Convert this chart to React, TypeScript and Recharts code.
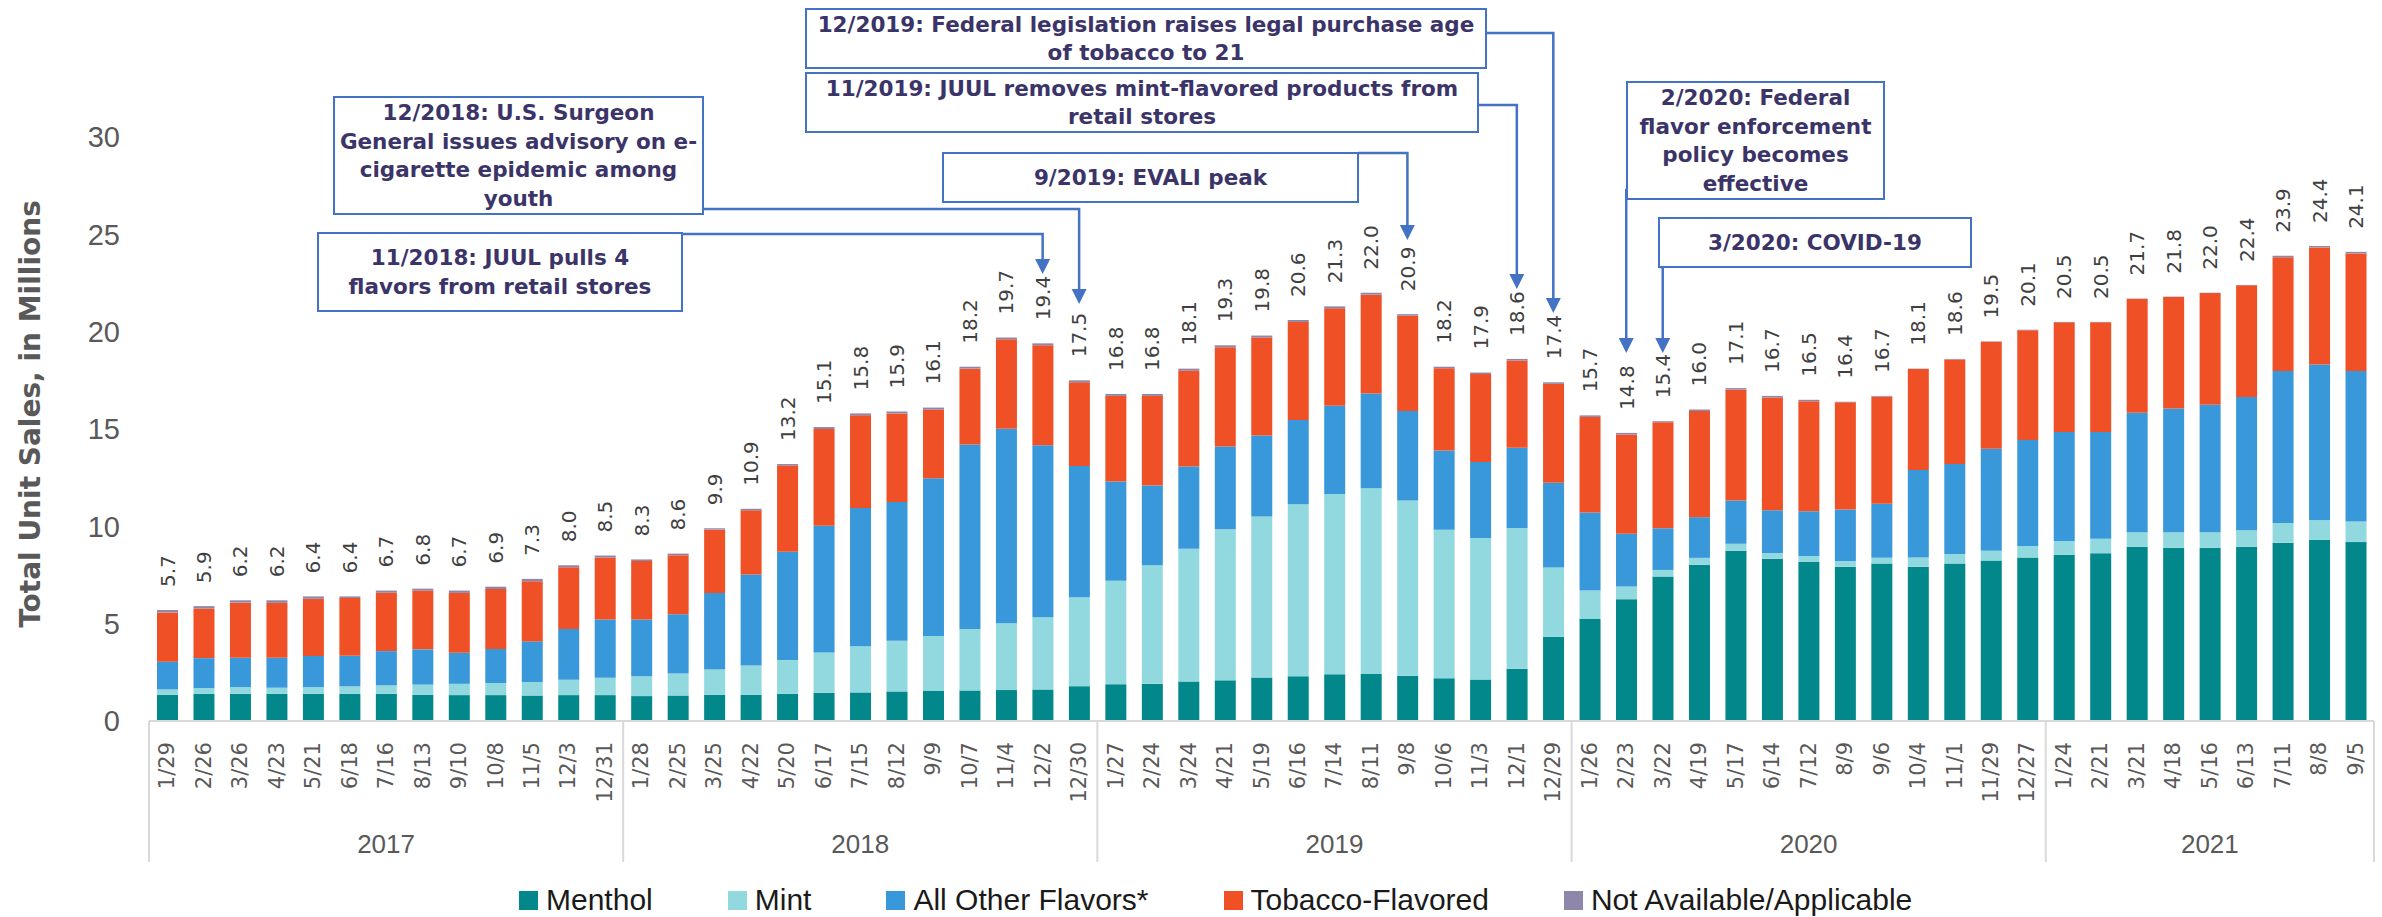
import React from "react";
import { Bar, BarChart, LabelList, XAxis, YAxis } from "recharts";

// weekly periods (4-week ending dates)
const weekLabels = [
  "1/29", "2/26", "3/26", "4/23", "5/21", "6/18", "7/16", "8/13", "9/10", "10/8", "11/5", "12/3", "12/31",
  "1/28", "2/25", "3/25", "4/22", "5/20", "6/17", "7/15", "8/12", "9/9", "10/7", "11/4", "12/2", "12/30",
  "1/27", "2/24", "3/24", "4/21", "5/19", "6/16", "7/14", "8/11", "9/8", "10/6", "11/3", "12/1", "12/29",
  "1/26", "2/23", "3/22", "4/19", "5/17", "6/14", "7/12", "8/9", "9/6", "10/4", "11/1", "11/29", "12/27",
  "1/24", "2/21", "3/21", "4/18", "5/16", "6/13", "7/11", "8/8", "9/5",
];
const years = ["2017", "2018", "2019", "2020", "2021"];
const weeksPerYear = [13, 13, 13, 13, 9];

// unit sales, millions
const menthol = [
  1.35, 1.39, 1.4, 1.39, 1.4, 1.39, 1.39, 1.35, 1.33, 1.33, 1.31, 1.33, 1.33,
  1.28, 1.31, 1.35, 1.35, 1.39, 1.44, 1.47, 1.52, 1.54, 1.57, 1.59, 1.62, 1.79,
  1.89, 1.91, 2.03, 2.09, 2.24, 2.3, 2.4, 2.42, 2.32, 2.2, 2.13, 2.68, 4.33,
  5.24, 6.26, 7.42, 8.03, 8.74, 8.34, 8.17, 7.93, 8.09, 7.93, 8.09, 8.24, 8.4,
  8.54, 8.62, 8.95, 8.89, 8.89, 8.95, 9.15, 9.3, 9.19,
];
const mint = [
  0.27, 0.3, 0.34, 0.32, 0.34, 0.39, 0.44, 0.52, 0.58, 0.62, 0.69, 0.79, 0.89,
  1.02, 1.13, 1.29, 1.5, 1.74, 2.08, 2.37, 2.6, 2.83, 3.15, 3.43, 3.71, 4.57,
  5.31, 6.09, 6.82, 7.76, 8.26, 8.83, 9.26, 9.54, 9.01, 7.63, 7.27, 7.23, 3.56,
  1.46, 0.65, 0.34, 0.35, 0.37, 0.29, 0.31, 0.29, 0.29, 0.47, 0.49, 0.5, 0.59,
  0.71, 0.74, 0.75, 0.81, 0.81, 0.85, 1.02, 1.01, 1.06,
];
const otherFlavors = [
  1.43, 1.54, 1.51, 1.54, 1.6, 1.57, 1.76, 1.81, 1.6, 1.75, 2.09, 2.61, 3.0,
  2.92, 3.05, 3.93, 4.67, 5.57, 6.51, 7.1, 7.13, 8.1, 9.48, 9.99, 8.83, 6.74,
  5.1, 4.1, 4.23, 4.25, 4.16, 4.33, 4.53, 4.86, 4.59, 4.06, 3.9, 4.13, 4.35,
  4.01, 2.71, 2.14, 2.09, 2.22, 2.19, 2.3, 2.64, 2.78, 4.49, 4.62, 5.25, 5.45,
  5.6, 5.49, 6.13, 6.35, 6.55, 6.84, 7.81, 8.0, 7.73,
];
const tobaccoFlavored = [
  2.53, 2.55, 2.83, 2.82, 2.94, 2.97, 3.0, 3.02, 3.07, 3.08, 3.09, 3.17, 3.18,
  3.0, 3.03, 3.26, 3.3, 4.42, 4.97, 4.76, 4.55, 3.53, 3.9, 4.6, 5.14, 4.3,
  4.4, 4.6, 4.92, 5.1, 5.04, 5.04, 5.01, 5.08, 4.9, 4.23, 4.52, 4.48, 5.08,
  4.91, 5.1, 5.45, 5.45, 5.69, 5.8, 5.65, 5.51, 5.5, 5.19, 5.37, 5.49, 5.63,
  5.63, 5.63, 5.85, 5.73, 5.73, 5.74, 5.84, 6.02, 6.04,
];
const notAvailable = [
  0.12, 0.12, 0.12, 0.13, 0.12, 0.08, 0.11, 0.1, 0.12, 0.12, 0.12, 0.1, 0.1,
  0.08, 0.08, 0.07, 0.08, 0.08, 0.1, 0.1, 0.1, 0.1, 0.1, 0.09, 0.1, 0.1,
  0.1, 0.1, 0.1, 0.1, 0.1, 0.1, 0.1, 0.1, 0.08, 0.08, 0.08, 0.08, 0.08,
  0.08, 0.08, 0.05, 0.08, 0.08, 0.08, 0.07, 0.03, 0.04, 0.02, 0.03, 0.02, 0.03,
  0.02, 0.02, 0.02, 0.02, 0.02, 0.02, 0.08, 0.07, 0.08,
];
const totals = [
  5.7, 5.9, 6.2, 6.2, 6.4, 6.4, 6.7, 6.8, 6.7, 6.9, 7.3, 8.0, 8.5,
  8.3, 8.6, 9.9, 10.9, 13.2, 15.1, 15.8, 15.9, 16.1, 18.2, 19.7, 19.4, 17.5,
  16.8, 16.8, 18.1, 19.3, 19.8, 20.6, 21.3, 22.0, 20.9, 18.2, 17.9, 18.6, 17.4,
  15.7, 14.8, 15.4, 16.0, 17.1, 16.7, 16.5, 16.4, 16.7, 18.1, 18.6, 19.5, 20.1,
  20.5, 20.5, 21.7, 21.8, 22.0, 22.4, 23.9, 24.4, 24.1,
];
const yTicks = [0, 5, 10, 15, 20, 25, 30];

const seriesKeys = ["menthol", "mint", "other", "tobacco", "na"];
const seriesNames = ["Menthol", "Mint", "All Other Flavors*", "Tobacco-Flavored", "Not Available/Applicable"];
const COLORS = ["#02878B", "#92D9DF", "#3898DA", "#F05025", "#8E87A9"];

// policy events and the week (index) each one points to
const eventNotes = [
  ["12/2019: Federal legislation raises legal purchase age", "of tobacco to 21"],
  ["11/2019: JUUL removes mint-flavored products from", "retail stores"],
  ["12/2018: U.S. Surgeon", "General issues advisory on e-", "cigarette epidemic among", "youth"],
  ["11/2018: JUUL pulls 4", "flavors from retail stores"],
  ["9/2019: EVALI peak"],
  ["2/2020: Federal", "flavor enforcement", "policy becomes", "effective"],
  ["3/2020: COVID-19"],
];
const eventWeeks = [38, 37, 25, 24, 34, 40, 41];

const data = weekLabels.map((week, i) => ({
  week,
  menthol: menthol[i],
  mint: mint[i],
  other: otherFlavors[i],
  tobacco: tobaccoFlavored[i],
  na: notAvailable[i],
  total: totals[i],
}));

// layout
const WIDTH = 2382;
const HEIGHT = 917;
const PLOT_LEFT = 149;
const PLOT_RIGHT = 2374;
const PLOT_TOP = 137;
const AXIS_Y = 721;
const STEP = (PLOT_RIGHT - PLOT_LEFT) / weekLabels.length;
const barCenter = (i: number) => PLOT_LEFT + (i + 0.5) * STEP;

const groupStarts = weeksPerYear.map((_, g) => weeksPerYear.slice(0, g).reduce((a, b) => a + b, 0));

// box [x, y, w, h], connector start [x, y], arrow tip y
const eventLayout = [
  { box: [806, 9, 680, 59], from: [1486, 33], tipY: 313 },
  { box: [806, 73, 672, 59], from: [1478, 105], tipY: 289 },
  { box: [334, 97, 369, 117], from: [703, 209], tipY: 304 },
  { box: [318, 233, 364, 78], from: [682, 234], tipY: 274 },
  { box: [943, 153, 415, 49], from: [1358, 153], tipY: 240 },
  { box: [1627, 82, 257, 117], from: [1627, 190], tipY: 353 },
  { box: [1659, 218, 312, 49], from: [1659, 267], tipY: 353 },
];

const AXIS_GREY = "#595959";
const ANNOT_BLUE = "#4472C4";
const ANNOT_TEXT = "#3B3468";

function DateTick(props: any) {
  const { x, payload } = props;
  const i = props.index ?? payload.index;
  const g = groupStarts.indexOf(i);
  return (
    <g>
      <text
        transform={`translate(${x},${AXIS_Y + 21}) rotate(-90)`}
        textAnchor="end"
        dominantBaseline="central"
        fontFamily="DejaVu Sans"
        fontSize={21}
        fill={AXIS_GREY}
      >
        {payload.value}
      </text>
      {g >= 0 && (
        <>
          <line x1={x - STEP / 2} x2={x - STEP / 2} y1={AXIS_Y} y2={862} stroke="#D9D9D9" strokeWidth={2} />
          <text
            x={x + ((weeksPerYear[g] - 1) / 2) * STEP}
            y={844}
            textAnchor="middle"
            dominantBaseline="central"
            fontFamily="Liberation Sans"
            fontSize={26}
            fill={AXIS_GREY}
          >
            {years[g]}
          </text>
        </>
      )}
      {i === weekLabels.length - 1 && (
        <line x1={x + STEP / 2} x2={x + STEP / 2} y1={AXIS_Y} y2={862} stroke="#D9D9D9" strokeWidth={2} />
      )}
    </g>
  );
}

function TotalLabel(props: any) {
  const { x, y, width, value } = props;
  const cx = Number(x) + Number(width) / 2;
  return (
    <text
      transform={`translate(${cx},${Number(y) - 23}) rotate(-90)`}
      textAnchor="start"
      dominantBaseline="central"
      fontFamily="DejaVu Sans"
      fontSize={20}
      fill="#404040"
    >
      {Number(value).toFixed(1)}
    </text>
  );
}

function Annotations() {
  return (
    <svg width={WIDTH} height={HEIGHT} style={{ position: "absolute", left: 0, top: 0, pointerEvents: "none" }}>
      <text
        transform={`translate(30,414) rotate(-90)`}
        textAnchor="middle"
        dominantBaseline="central"
        fontFamily="DejaVu Sans"
        fontWeight="bold"
        fontSize={28}
        fill={AXIS_GREY}
      >
        Total Unit Sales, in Millions
      </text>
      {eventNotes.map((lines, k) => {
        const { box, from, tipY } = eventLayout[k];
        const [bx, by, bw, bh] = box;
        const tx = barCenter(eventWeeks[k]);
        const lineH = 28.5;
        const midY = by + bh / 2;
        return (
          <g key={k}>
            <polyline
              points={`${from[0]},${from[1]} ${tx},${from[1]} ${tx},${tipY - 14}`}
              fill="none"
              stroke={ANNOT_BLUE}
              strokeWidth={2.5}
            />
            <polygon points={`${tx - 7.5},${tipY - 15} ${tx + 7.5},${tipY - 15} ${tx},${tipY}`} fill={ANNOT_BLUE} />
            <rect x={bx} y={by} width={bw} height={bh} fill="#fff" stroke={ANNOT_BLUE} strokeWidth={2} />
            {lines.map((ln, j) => (
              <text
                key={j}
                x={bx + bw / 2}
                y={midY + (j - (lines.length - 1) / 2) * lineH}
                textAnchor="middle"
                dominantBaseline="central"
                fontFamily="DejaVu Sans"
                fontWeight="bold"
                fontSize={21.5}
                fill={ANNOT_TEXT}
              >
                {ln}
              </text>
            ))}
          </g>
        );
      })}
    </svg>
  );
}

export default function App() {
  return (
    <div style={{ position: "relative", width: WIDTH, height: HEIGHT, background: "#fff" }}>
      <style>{`body{margin:0;}`}</style>
      <BarChart
        width={WIDTH}
        height={HEIGHT}
        data={data}
        margin={{ top: PLOT_TOP, right: WIDTH - PLOT_RIGHT, bottom: 0, left: 0 }}
        barSize={21}
      >
        <XAxis
          dataKey="week"
          interval={0}
          height={HEIGHT - AXIS_Y}
          tickLine={false}
          axisLine={{ stroke: "#D9D9D9", strokeWidth: 2 }}
          tick={(p: any) => <DateTick {...p} />}
        />
        <YAxis
          width={PLOT_LEFT}
          domain={[0, 30]}
          ticks={yTicks}
          tickLine={false}
          axisLine={false}
          tickMargin={23}
          tick={{ fontSize: 29, fill: AXIS_GREY, fontFamily: "Liberation Sans" }}
        />
        {seriesKeys.map((key, s) => (
          <Bar key={key} dataKey={key} stackId="a" fill={COLORS[s]} isAnimationActive={false}>
            {key === "na" && <LabelList dataKey="total" content={(p: any) => <TotalLabel {...p} />} />}
          </Bar>
        ))}
      </BarChart>
      <Annotations />
      <div
        style={{
          position: "absolute",
          left: 519,
          top: 885,
          display: "flex",
          alignItems: "center",
          gap: 75,
          fontFamily: "Liberation Sans",
          fontSize: 30,
          lineHeight: "30px",
          color: "#1a1a1a",
          whiteSpace: "nowrap",
        }}
      >
        {seriesNames.map((name, s) => (
          <div key={name} style={{ display: "flex", alignItems: "center" }}>
            <span style={{ display: "inline-block", width: 19, height: 19, background: COLORS[s], marginRight: 8 }} />
            <span>{name}</span>
          </div>
        ))}
      </div>
    </div>
  );
}
